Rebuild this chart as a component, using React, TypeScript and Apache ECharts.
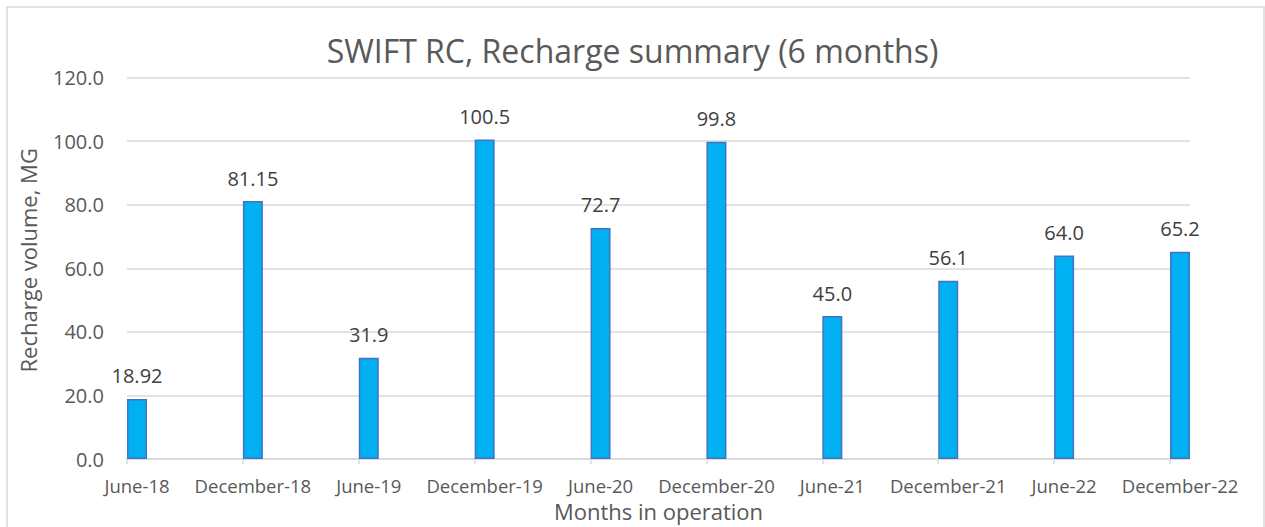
import React, { useEffect, useRef } from "react";
import * as echarts from "echarts";

const categories = [
  "June-18", "December-18", "June-19", "December-19", "June-20",
  "December-20", "June-21", "December-21", "June-22", "December-22",
];
const rechargeValues = [18.92, 81.15, 31.9, 100.5, 72.7, 99.8, 45.0, 56.1, 64.0, 65.2];
const valueLabels = ["18.92", "81.15", "31.9", "100.5", "72.7", "99.8", "45.0", "56.1", "64.0", "65.2"];
const yTicks = [0, 20, 40, 60, 80, 100, 120];

const FONT = "'Open Sans', sans-serif";

export default function App() {
  const ref = useRef<HTMLDivElement>(null);
  useEffect(() => {
    document.body.style.margin = "0";
    const chart = echarts.init(ref.current!, null, { renderer: "svg" });
    const idx = categories.map((_, i) => i);
    const xMax = categories.length - 1 + 20 / 115.9;
    chart.setOption({
      animation: false,
      backgroundColor: "#ffffff",
      textStyle: { fontFamily: FONT },
      title: {
        text: "SWIFT RC, Recharge summary (6 months)",
        left: "center",
        top: 29,
        textStyle: { fontFamily: FONT, fontSize: 32, fontWeight: "normal", color: "#595959" },
      },
      graphic: [
        {
          type: "rect",
          shape: { x: 7, y: 7, width: 1257, height: 530 },
          style: { fill: "none", stroke: "#d9d9d9", lineWidth: 1.5 },
          silent: true,
        },
      ],
      grid: { left: 127, right: 75, top: 77.5, bottom: 65.5, containLabel: false },
      xAxis: {
        type: "value",
        min: yTicks[0],
        max: xMax,
        interval: 1,
        name: "Months in operation",
        nameLocation: "middle",
        nameGap: 38,
        nameTextStyle: { fontFamily: FONT, fontSize: 22, color: "#595959" },
        axisLine: { show: true, lineStyle: { color: "#d9d9d9", width: 1.5 } },
        axisTick: { show: true, length: 5, customValues: idx, lineStyle: { color: "#d9d9d9", width: 1.5 } },
        splitLine: { show: false },
        axisLabel: {
          customValues: idx,
          formatter: (v: number) => categories[Math.round(v)] ?? "",
          fontFamily: FONT,
          fontSize: 18.5,
          color: "#595959",
          margin: 17,
          padding: [0, 0, 0, 20],
        },
      },
      yAxis: {
        type: "value",
        min: yTicks[0],
        max: yTicks[yTicks.length - 1],
        interval: yTicks[1] - yTicks[0],
        name: "Recharge volume, MG",
        nameLocation: "middle",
        nameGap: 88,
        nameRotate: 90,
        nameTextStyle: { fontFamily: FONT, fontSize: 22, color: "#595959", padding: [0, 0, 0, 16] },
        axisLine: { show: false },
        axisTick: { show: false },
        splitLine: { lineStyle: { color: "#d9d9d9", width: 1.5 } },
        axisLabel: {
          formatter: (v: number) => v.toFixed(1),
          fontFamily: FONT,
          fontSize: 20,
          color: "#595959",
          margin: 23,
        },
      },
      series: [
        {
          type: "bar",
          name: "spacer",
          data: idx.map((i) => [i, 0]),
          barWidth: 20,
          barGap: "0%",
          itemStyle: { color: "rgba(0,0,0,0)" },
          silent: true,
        },
        {
          type: "bar",
          name: "Recharge volume",
          data: idx.map((i) => [i, rechargeValues[i]]),
          barWidth: 20,
          barGap: "0%",
          clip: false,
          itemStyle: { color: "#00B0F0", borderColor: "#4472C4", borderWidth: 1.5 },
          label: {
            show: true,
            position: "top",
            distance: 13,
            formatter: (p: any) => valueLabels[p.dataIndex],
            fontFamily: FONT,
            fontSize: 20,
            color: "#404040",
          },
        },
      ],
    });
    return () => chart.dispose();
  }, []);
  return <div ref={ref} style={{ width: 1265, height: 527 }} />;
}
